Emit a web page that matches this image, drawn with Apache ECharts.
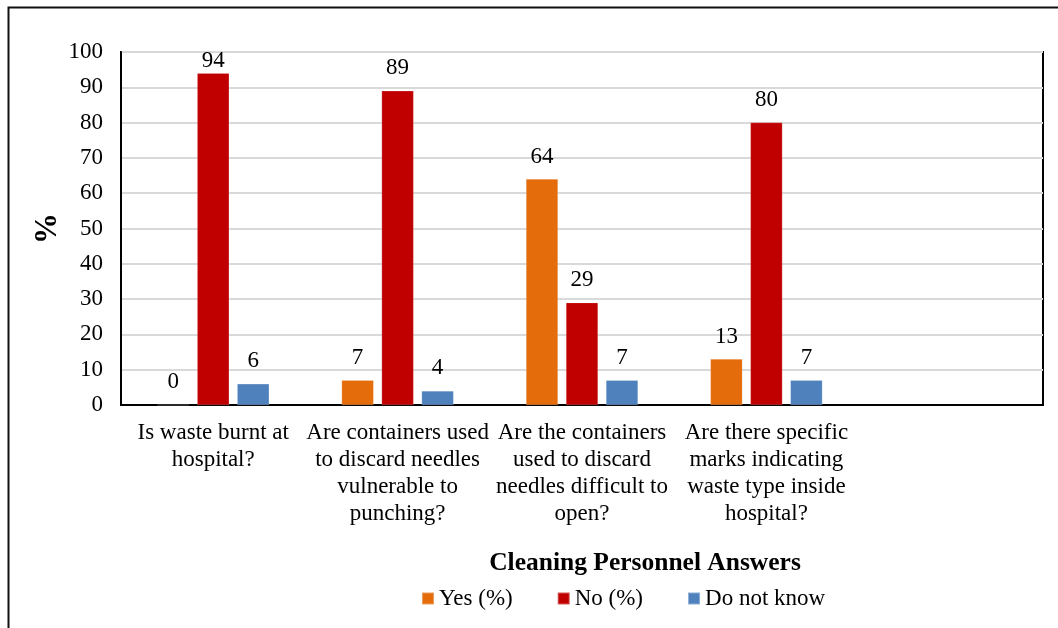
<!DOCTYPE html>
<html>
<head>
<meta charset="utf-8">
<style>
  html, body { margin: 0; padding: 0; background: #fff; }
  #chart { width: 1058px; height: 628px; }
</style>
<script src="https://cdn.jsdelivr.net/npm/echarts@6/dist/echarts.min.js"></script>
</head>
<body>
<div id="chart"></div>
<script>
// Survey questions (an empty fifth slot keeps the spacing on the right)
const questions = [
  'Is waste burnt at\nhospital?',
  'Are containers used\nto discard needles\nvulnerable to\npunching?',
  'Are the containers\nused to discard\nneedles difficult to\nopen?',
  'Are there specific\nmarks indicating\nwaste type inside\nhospital?',
  ''
];
const yesPct = [0, 7, 64, 13, null];
const noPct = [94, 89, 29, 80, null];
const dontKnowPct = [6, 4, 7, 7, null];
const yTicks = [0, 10, 20, 30, 40, 50, 60, 70, 80, 90, 100];

const serif = '"Liberation Serif", "Times New Roman", serif';

const chart = echarts.init(document.getElementById('chart'), null, { renderer: 'canvas' });

// Labels of bars reaching the top of the plot sit closer to the bar
function toItems(values) {
  return values.map(v => (v !== null && v > 90)
    ? { value: v, label: { distance: 1 } }
    : v);
}

function barSeries(name, data, color) {
  return {
    name: name,
    type: 'bar',
    data: toItems(data),
    barWidth: 32,
    barGap: '25%',
    itemStyle: { color: color, borderColor: 'rgba(255,255,255,0.35)', borderWidth: 0.5 },
    label: {
      show: true,
      position: 'top',
      distance: 11,
      color: '#000',
      fontFamily: serif,
      fontSize: 23,
      formatter: p => (p.value === null || p.value === undefined) ? '' : String(p.value)
    }
  };
}

chart.setOption({
  animation: false,
  backgroundColor: '#fff',
  textStyle: { fontFamily: serif },
  grid: {
    left: 121, right: 15, top: 52, bottom: 223,
    show: true, borderColor: '#000', borderWidth: 2, backgroundColor: 'transparent'
  },
  legend: {
    left: 421,
    top: 587,
    padding: 0,
    itemWidth: 12,
    itemHeight: 12,
    itemGap: 44,
    icon: 'rect',
    textStyle: { fontFamily: serif, fontSize: 23, color: '#000' },
    data: ['Yes (%)', 'No (%)', 'Do not know']
  },
  graphic: [
    {
      type: 'rect',
      shape: { x: 8.5, y: 7.5, width: 1100, height: 700 },
      style: { fill: 'none', stroke: '#111', lineWidth: 2 },
      silent: true
    },
    {
      type: 'text',
      x: 645, y: 563,
      style: {
        text: 'Cleaning Personnel Answers',
        fontFamily: serif, fontSize: 25.5, fontWeight: 'bold', fill: '#000',
        textAlign: 'center', textVerticalAlign: 'middle'
      }
    }
  ],
  xAxis: {
    type: 'category',
    data: questions,
    axisTick: { show: false },
    axisLine: { lineStyle: { color: '#000', width: 2 } },
    axisLabel: {
      interval: 0,
      margin: 14,
      fontFamily: serif,
      fontSize: 23,
      lineHeight: 27,
      color: '#000',
      align: 'center'
    }
  },
  yAxis: {
    type: 'value',
    min: 0,
    max: 100,
    interval: 10,
    name: '%',
    nameLocation: 'middle',
    nameRotate: 90,
    nameGap: 58,
    nameMoveOverlap: false,
    nameTextStyle: { fontFamily: serif, fontSize: 31, fontWeight: 'bold', color: '#000' },
    axisLine: { show: true, lineStyle: { color: '#000', width: 2 } },
    axisTick: { show: false },
    axisLabel: {
      margin: 18,
      fontFamily: serif,
      fontSize: 23,
      color: '#000',
      formatter: v => yTicks.includes(v) ? String(v) : ''
    },
    splitLine: { lineStyle: { color: '#d9d9d9', width: 2 } }
  },
  series: [
    barSeries('Yes (%)', yesPct, '#E46C0A'),
    barSeries('No (%)', noPct, '#C00000'),
    barSeries('Do not know', dontKnowPct, '#4F81BD')
  ]
});
</script>
</body>
</html>
